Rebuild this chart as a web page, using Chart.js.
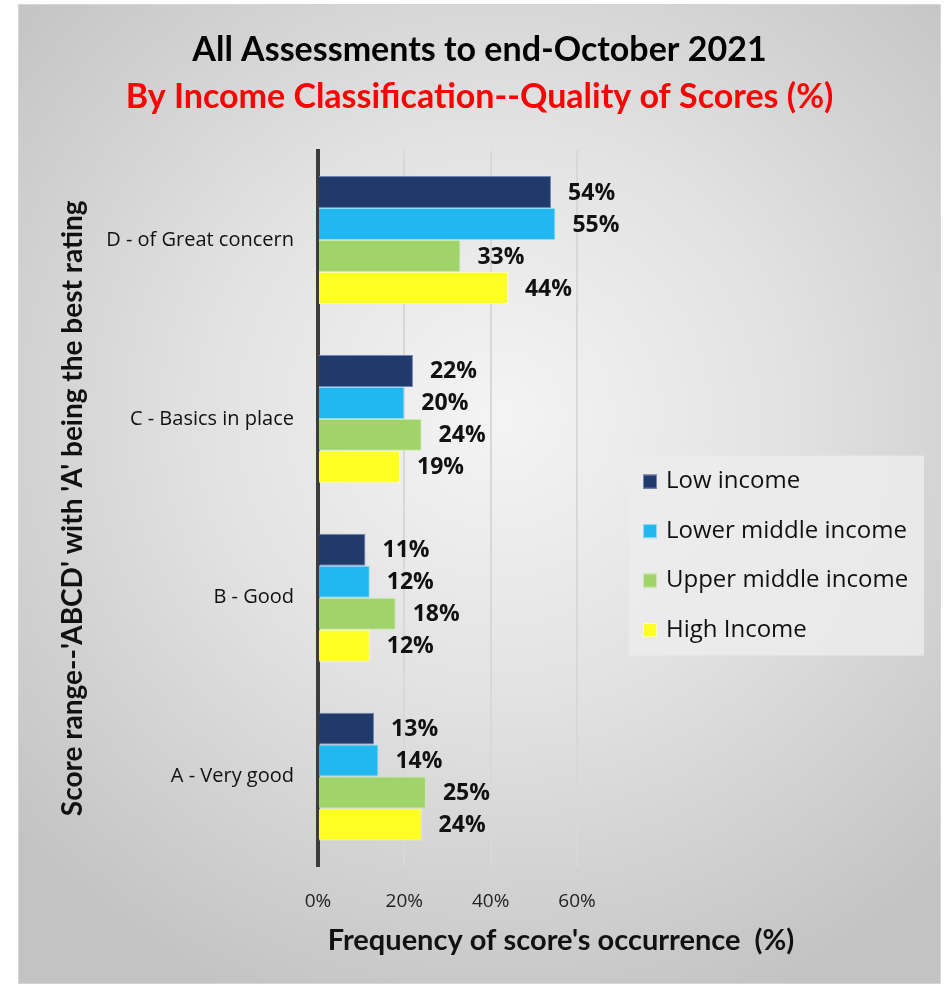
<!DOCTYPE html>
<html lang="en">
<head>
    <meta charset="UTF-8">
    <title>Quality of Scores by Income Classification</title>
    <script src="https://cdn.jsdelivr.net/npm/chart.js"></script>
    <style>
        html, body { margin: 0; padding: 0; background: #fff; }
        .frame {
            position: absolute;
            left: 18px;
            top: 4px;
            width: 923px;
            height: 980px;
            box-sizing: border-box;
            border: 1px solid #d6d6d6;
            background: radial-gradient(ellipse 70% 65% at 52% 42%, #f4f4f4 0%, #e2e2e2 45%, #c3c3c3 100%);
        }
        .frame canvas { display: block; }
    </style>
</head>
<body>
    <div class="frame">
        <canvas id="scoreChart" width="921" height="978"></canvas>
    </div>

    <script>
        // score bands, top row first
        const categories = ['D - of Great concern', 'C - Basics in place', 'B - Good', 'A - Very good'];

        // % of assessments in each band
        const lowIncome = [54, 22, 11, 13];
        const lowerMiddle = [55, 20, 12, 14];
        const upperMiddle = [33, 24, 18, 25];
        const highIncome = [44, 19, 12, 24];

        const seriesNames = ['Low income', 'Lower middle income', 'Upper middle income', 'High Income'];
        const seriesColors = ['#213a6c', '#22b8ef', '#a0d46a', '#ffff22'];
        const seriesBorders = ['#6f86b5', '#8fdcf7', '#cbe9ad', '#ffffa8'];

        const xTicks = [0, 20, 40, 60];

        const series = [lowIncome, lowerMiddle, upperMiddle, highIncome];
        const datasets = series.map((values, i) => ({
            label: seriesNames[i],
            data: values,
            backgroundColor: seriesColors[i],
            borderColor: seriesBorders[i],
            borderWidth: 1,
            categoryPercentage: 0.715,
            barPercentage: 1
        }));

        // value labels to the right of each bar
        const valueLabels = {
            id: 'valueLabels',
            afterDatasetsDraw(chart) {
                const ctx = chart.ctx;
                ctx.save();
                ctx.font = 'bold 23px "Open Sans"';
                ctx.fillStyle = '#111';
                ctx.textAlign = 'left';
                ctx.textBaseline = 'middle';
                chart.data.datasets.forEach((ds, i) => {
                    chart.getDatasetMeta(i).data.forEach((bar, j) => {
                        ctx.fillText(ds.data[j] + '%', bar.x + 17, bar.y + 1);
                    });
                });
                ctx.restore();
            }
        };

        // boxed legend sitting right of the plot
        const sideLegend = {
            id: 'sideLegend',
            afterDraw(chart) {
                const ctx = chart.ctx;
                const area = chart.chartArea;
                const left = area.right + 52;
                const top = area.top + 305;
                ctx.save();
                ctx.fillStyle = 'rgba(236,236,236,0.85)';
                ctx.fillRect(left, top, 295, 200);
                ctx.font = '24px "Open Sans"';
                ctx.textBaseline = 'middle';
                ctx.textAlign = 'left';
                chart.data.datasets.forEach((ds, i) => {
                    const y = top + 26 + i * 49.5;
                    ctx.fillStyle = ds.backgroundColor;
                    ctx.fillRect(left + 14, y - 7, 14, 14);
                    ctx.strokeStyle = ds.borderColor;
                    ctx.lineWidth = 1;
                    ctx.strokeRect(left + 14.5, y - 6.5, 13, 13);
                    ctx.fillStyle = '#111';
                    ctx.fillText(ds.label, left + 37, y);
                });
                ctx.restore();
            }
        };

        // x axis title, set off to the right of the plot centre
        const xTitle = {
            id: 'xTitle',
            afterDraw(chart) {
                const ctx = chart.ctx;
                ctx.save();
                ctx.font = 'bold 29px Lato';
                ctx.fillStyle = '#111';
                ctx.textAlign = 'center';
                ctx.textBaseline = 'middle';
                ctx.fillText("Frequency of score's occurrence  (%)", chart.chartArea.left + 243, chart.chartArea.bottom + 75);
                ctx.restore();
            }
        };

        new Chart(document.getElementById('scoreChart'), {
            type: 'bar',
            data: { labels: categories, datasets: datasets },
            options: {
                indexAxis: 'y',
                responsive: false,
                animation: false,
                layout: { padding: 0 },
                plugins: {
                    legend: { display: false },
                    tooltip: { enabled: false },
                    title: {
                        display: true,
                        text: 'All Assessments to end-October 2021',
                        color: '#000',
                        font: { family: 'Lato', size: 34, weight: 'bold' },
                        padding: { top: 25, bottom: 3 }
                    },
                    subtitle: {
                        display: true,
                        text: 'By Income Classification--Quality of Scores (%)',
                        color: '#ff0000',
                        font: { family: 'Lato', size: 34, weight: 'bold' },
                        padding: { top: 3, bottom: 33 }
                    }
                },
                scales: {
                    x: {
                        min: 0,
                        max: 60,
                        afterBuildTicks: s => { s.ticks = xTicks.map(v => ({ value: v })); },
                        afterFit: s => { s.height = 117; },
                        ticks: {
                            callback: v => v + '%',
                            color: '#222',
                            padding: 24,
                            font: { family: 'Open Sans', size: 19 }
                        },
                        grid: { color: '#d8d8d8', lineWidth: 2, drawTicks: false },
                        border: { display: false }
                    },
                    y: {
                        afterFit: s => { s.width = 299; },
                        ticks: {
                            color: '#111',
                            padding: 24,
                            font: { family: 'Open Sans', size: 20 }
                        },
                        grid: { display: false, drawTicks: false },
                        border: { display: true, color: '#3c3c3c', width: 4 },
                        title: {
                            display: true,
                            text: "Score range--'ABCD' with 'A' being the best rating",
                            color: '#111',
                            font: { family: 'Lato', size: 28, weight: 'bold' },
                            padding: { top: 37, bottom: 0 }
                        }
                    },
                    // empty right-hand axis that keeps room for the legend
                    side: {
                        type: 'linear',
                        position: 'right',
                        afterFit: s => { s.width = 363; },
                        ticks: { display: false },
                        grid: { display: false },
                        border: { display: false }
                    }
                }
            },
            plugins: [valueLabels, sideLegend, xTitle]
        });
    </script>
</body>
</html>
